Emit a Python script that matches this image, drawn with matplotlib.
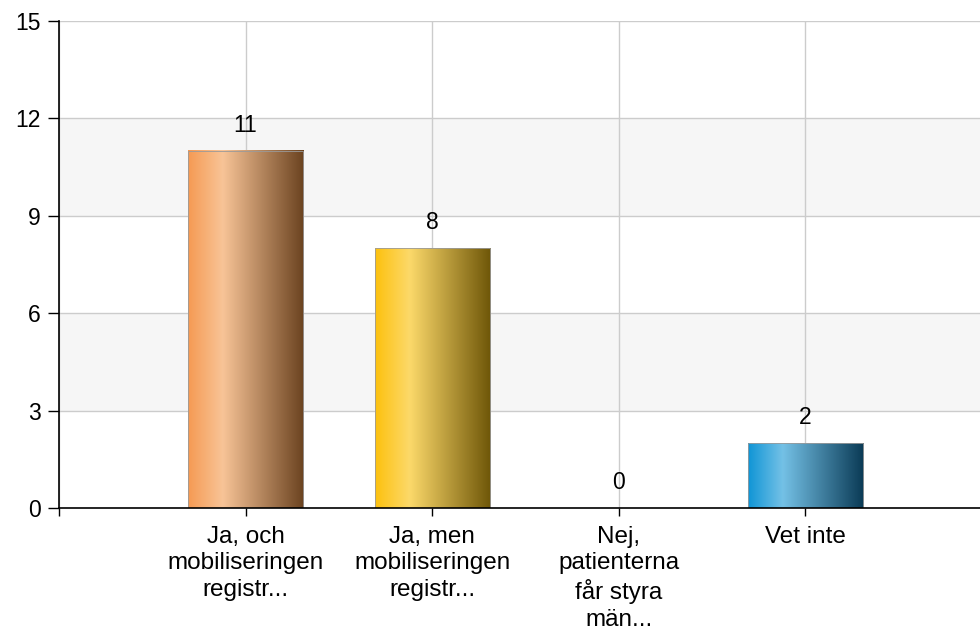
import matplotlib
matplotlib.use("Agg")
import matplotlib.pyplot as plt
import numpy as np
from matplotlib.colors import LinearSegmentedColormap

categories = ["Ja, och\nmobiliseringen\nregistr...",
              "Ja, men\nmobiliseringen\nregistr...",
              "Nej,\npatienterna\nfår styra\nmän...",
              "Vet inte"]
values = [11, 8, 0, 2]
yticks = [0, 3, 6, 9, 12, 15]
gradients = [
    ["#F59A53", "#F8C497", "#6B4320"],
    ["#FDC10E", "#FCD96A", "#6E5608"],
    ["#B0B0B0", "#DDDDDD", "#555555"],
    ["#0F95D6", "#74C1E6", "#0A3A55"],
]

plt.rcParams['font.family'] = ['Liberation Sans', 'DejaVu Sans']

fig = plt.figure(figsize=(9.8, 6.34), dpi=100)
ax = fig.add_axes([59/980, (634-508)/634, 1 - 59/980, (508-21)/634])

x = np.arange(len(categories))
width = 0.617
xlim = (-1, -1 + 921/186.6)
ax.set_xlim(*xlim)
ax.set_ylim(0, 15)

# alternating bands
for i in range(1, len(yticks) - 1, 2):
    ax.axhspan(yticks[i], yticks[i+1], color="#F6F6F6", zorder=0, lw=0)

bars = ax.bar(x, values, width=width, facecolor="none", edgecolor="#9a9a9a",
              linewidth=0.6, zorder=3)
grad = np.linspace(0, 1, 256).reshape(1, -1)
for b, g, v in zip(bars, gradients, values):
    if v <= 0:
        continue
    cmap = LinearSegmentedColormap.from_list("g", list(zip([0, 0.3, 1], g)))
    x0 = b.get_x()
    ax.imshow(grad, cmap=cmap, aspect="auto", extent=(x0, x0 + b.get_width(), 0, v),
              zorder=2, interpolation="bilinear")
ax.set_xlim(*xlim)
ax.set_ylim(0, 15)

for xi, v in zip(x, values):
    ax.annotate(str(v), (xi, v), xytext=(0, 10), textcoords="offset points",
                ha="center", va="bottom", fontsize=16.5, color="#000000", zorder=5)

ax.set_yticks(yticks)
ax.set_yticklabels([str(t) for t in yticks])
ax.set_xticks([-1] + list(x))
ax.set_xticklabels([""] + categories, fontsize=17.5, linespacing=1.25)
ax.tick_params(axis="y", labelsize=16.5, length=8, width=1, pad=5, colors="#000000")
ax.tick_params(axis="x", length=6, width=1, pad=7)

ax.grid(True, color="#CCCCCC", linewidth=1, zorder=1)
ax.set_axisbelow(True)
for s in ["top", "right"]:
    ax.spines[s].set_visible(False)
for s in ["left", "bottom"]:
    ax.spines[s].set_color("#000000")
    ax.spines[s].set_linewidth(1.2)
    ax.spines[s].set_zorder(6)

fig.savefig("out.png", dpi=100)
